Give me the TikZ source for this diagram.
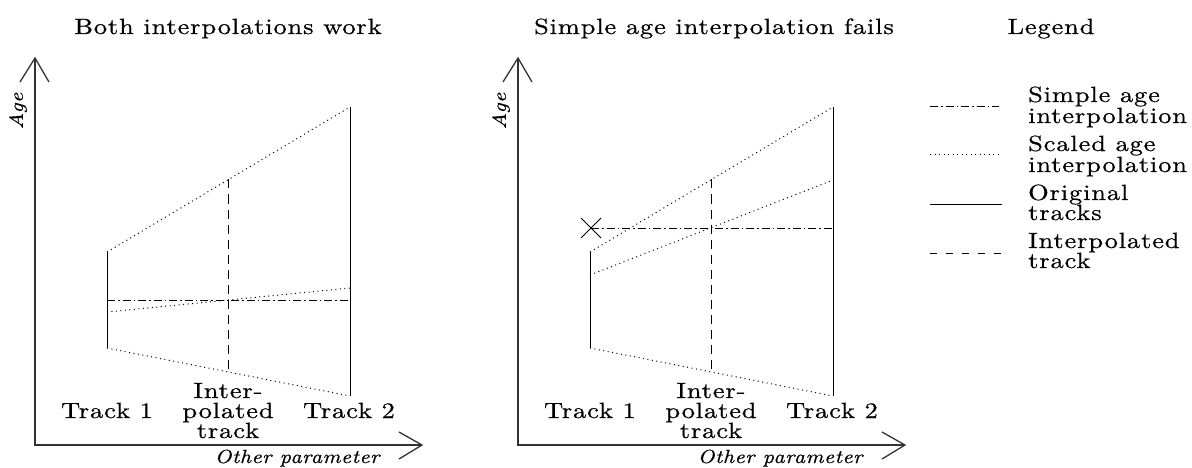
\documentclass[tikz,border=0pt]{standalone}
\usepackage{fontspec}
\usetikzlibrary{calc}
\setmainfont{lmroman10-regular.otf}[FakeStretch=1.2, LetterSpace=4, FakeBold=0.6, ItalicFont=lmroman10-italic.otf, ItalicFeatures={FakeStretch=1.15, LetterSpace=3, FakeBold=0.7}]
\begin{document}
\begin{tikzpicture}[x=1pt,y=-1pt,
  lbl/.style={font=\fontsize{22}{20.5}\selectfont, inner sep=0pt, anchor=base, text height=15pt, text depth=0pt},
  ital/.style={font=\fontsize{19}{20}\selectfont\itshape, inner sep=0pt},
  axis/.style={line width=1.3pt, draw=black!80},
  trk/.style={line width=1pt},
  dots/.style={line width=1pt, dash pattern=on 1pt off 3.5pt},
  dashdot/.style={line width=1pt, dash pattern=on 8pt off 3pt on 1.5pt off 3pt},
  dsh/.style={line width=1pt, dash pattern=on 9pt off 6pt},
  ldsh/.style={line width=1pt, dash pattern=on 7pt off 9pt}]
\useasboundingbox (0,0) rectangle (1192,468);

% ---------- titles ----------
\node[lbl] (t1) at (228,34) {Both interpolations work};
\node[lbl] (t2) at (714,34) {Simple age interpolation fails};
\node[lbl] (t3) at (1051,34) {Legend};

% ---------- panels ----------
\foreach \o/\p in {0/L,483/R}{
  \begin{scope}[xshift=\o pt]
  % axes
  \coordinate (orig\p) at (35,445);
  \coordinate (ytip\p) at (35,58);
  \coordinate (xtip\p) at (422,445);
  \draw[axis] (ytip\p) -- (orig\p) -- (xtip\p);
  \draw[axis] (20,82) -- (ytip\p) -- (49,82);
  \draw[axis] (399,432) -- (xtip\p) -- (399,459);
  \node[ital, rotate=90] (age\p) at (18,111) {Age};
  \node[ital, anchor=base] (op\p) at (297,463) {Other parameter};
  % tracks
  \coordinate (a1\p) at (107,252);
  \coordinate (b1\p) at (107,348);
  \coordinate (a2\p) at (350,107);
  \coordinate (b2\p) at (350,396);
  \draw[trk] (a1\p) -- (b1\p);
  \draw[trk] (a2\p) -- (b2\p);
  \draw[dots] (a1\p) -- (a2\p);
  \draw[dots] (b1\p) -- (b2\p);
  \coordinate (it\p) at ($(a1\p)!0.5!(a2\p)$);
  \coordinate (ib\p) at ($(b1\p)!0.5!(b2\p)$);
  \draw[dsh] (it\p) -- (ib\p);
  \node[lbl] (tr1\p) at (107,418) {Track 1};
  \node[lbl] (tr2\p) at (349,418) {Track 2};
  \node[lbl] (in1\p) at (228,398) {Inter-};
  \node[lbl] (in2\p) at (228,418) {polated};
  \node[lbl] (in3\p) at (228,438) {track};
  \end{scope}
}

% left panel interpolations
\coordinate (sL1) at (107,300);
\coordinate (sL2) at (350,300);
\draw[dashdot] (sL1) -- (sL2);
\coordinate (mL1) at (107,312);
\coordinate (mL2) at (350,288);
\draw[dots] (mL1) -- (mL2);

% right panel interpolations
\coordinate (X) at (591,228);
\coordinate (sR2) at (833,228);
\draw[dashdot] (X) -- (sR2);
\draw[line width=1pt] ($(X)+(-10,-10)$) -- ($(X)+(10,10)$);
\draw[line width=1pt] ($(X)+(-10,10)$) -- ($(X)+(10,-10)$);
\coordinate (mR1) at (590,275);
\coordinate (mR2) at (833,180);
\draw[dots] (mR1) -- (mR2);

% ---------- legend ----------
\coordinate (l1a) at (930,107); \coordinate (l1b) at (999,107);
\coordinate (l2a) at (930,155); \coordinate (l2b) at (999,155);
\coordinate (l3a) at (930,204); \coordinate (l3b) at (1002,204);
\coordinate (l4a) at (930,253); \coordinate (l4b) at (1004,253);
\draw[dashdot] (l1a) -- (l1b);
\draw[dots] (l2a) -- (l2b);
\draw[trk] (l3a) -- (l3b);
\draw[ldsh] (l4a) -- (l4b);
\node[lbl, anchor=base west] (g1a) at (1028,102) {Simple age};
\node[lbl, anchor=base west] (g1b) at (1028,123) {interpolation};
\node[lbl, anchor=base west] (g2a) at (1028,151) {Scaled age};
\node[lbl, anchor=base west] (g2b) at (1028,172) {interpolation};
\node[lbl, anchor=base west] (g3a) at (1028,200) {Original};
\node[lbl, anchor=base west] (g3b) at (1028,220) {tracks};
\node[lbl, anchor=base west] (g4a) at (1028,248) {Interpolated};
\node[lbl, anchor=base west] (g4b) at (1028,268) {track};
\end{tikzpicture}
\end{document}
